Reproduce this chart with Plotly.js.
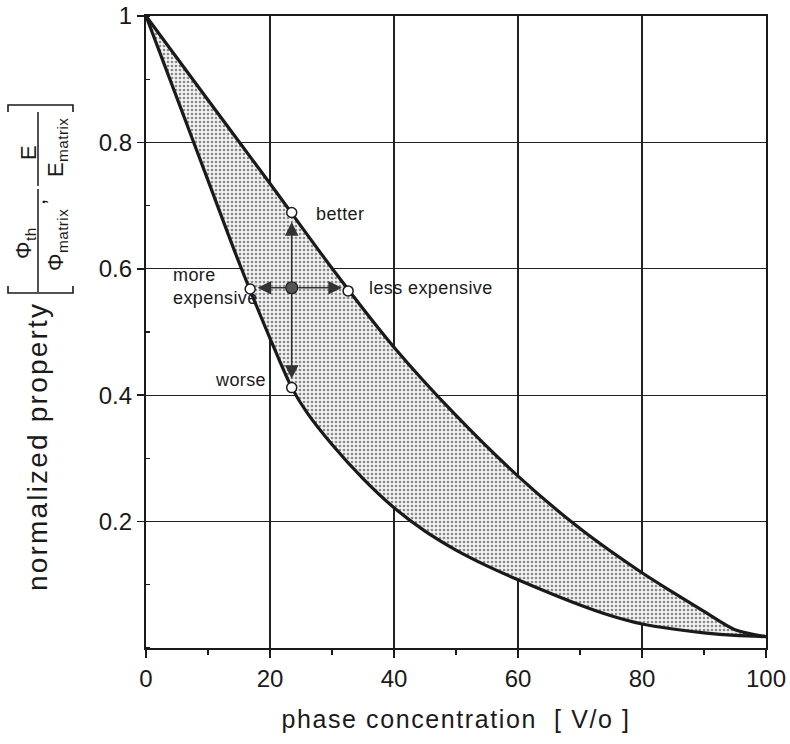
<!DOCTYPE html>
<html>
<head>
<meta charset="utf-8">
<script src="https://cdn.plot.ly/plotly-3.0.1.min.js"></script>
<style>
html,body{margin:0;padding:0;background:#fff;}
#chart{width:790px;height:744px;}
.annotation-text{letter-spacing:0.4px;}
.annotation[data-index="8"] .annotation-text{letter-spacing:2.2px;}
.xtitle{letter-spacing:1.6px;}
</style>
</head>
<body>
<div id="chart"></div>
<script>
// ---- data ----
const upperX = [0, 10, 20, 30, 40, 50, 60, 70, 80, 85, 90, 95, 100];
const upperY = [1.0, 0.867, 0.735, 0.601, 0.476, 0.368, 0.272, 0.189, 0.119, 0.088, 0.058, 0.029, 0.018];
const lowerX = [0, 5, 10, 15, 20, 23.5, 26, 30, 35, 40, 45, 50, 55, 60, 70, 75, 80, 85, 90, 95, 100];
const lowerY = [1.0, 0.87, 0.74, 0.61, 0.49, 0.412, 0.372, 0.322, 0.268, 0.222, 0.185, 0.155, 0.130, 0.108, 0.068, 0.051, 0.038, 0.030, 0.024, 0.020, 0.018];

const openPtX = [23.5, 32.6, 16.8, 23.5];
const openPtY = [0.689, 0.565, 0.568, 0.412];
const centerX = [23.5];
const centerY = [0.57];

// arrow tips: up, right, left, down
const arrowTipX = [23.5, 31.6, 18.0, 23.5];
const arrowTipY = [0.674, 0.57, 0.57, 0.426];

const labelText = ["better", "less expensive", "more<br>expensive", "worse"];
const labelX = [27.1, 35.6, 4.0, 19.6];
const labelY = [0.686, 0.570, 0.572, 0.424];
const labelAnchor = ["left", "left", "left", "right"];

const xTickVals = [0, 20, 40, 60, 80, 100];
const yTickVals = [0.2, 0.4, 0.6, 0.8, 1];
const yTickText = ["0.2", "0.4", "0.6", "0.8", "1"];

const FONT = "'Liberation Sans', Arial, sans-serif";
const INK = "#1a1a1a";

const traces = [
  {x: lowerX, y: lowerY, mode: "lines", line: {color: INK, width: 3.2, shape: "spline", smoothing: 0.8},
   hoverinfo: "skip", showlegend: false},
  {x: upperX, y: upperY, mode: "lines", line: {color: INK, width: 3.2, shape: "spline", smoothing: 0.8},
   fill: "tonexty", fillcolor: "rgba(0,0,0,0.13)",
   fillpattern: {shape: ".", fgcolor: "#8a8a8a", bgcolor: "#f3f3f3", size: 4, solidity: 0.35},
   hoverinfo: "skip", showlegend: false},
  {x: centerX, y: centerY, mode: "markers",
   marker: {size: 12, color: "#555", line: {color: INK, width: 1.2}}, showlegend: false},
  {x: openPtX, y: openPtY, mode: "markers",
   marker: {size: 10, color: "#fff", line: {color: INK, width: 1.5}}, showlegend: false}
];

const annotations = [];
for (let i = 0; i < arrowTipX.length; i++) {
  annotations.push({x: arrowTipX[i], y: arrowTipY[i], ax: centerX[0], ay: centerY[0],
    xref: "x", yref: "y", axref: "x", ayref: "y", text: "", showarrow: true,
    arrowhead: 2, arrowsize: 1.7, arrowwidth: 1.6, arrowcolor: "#333", startstandoff: 5, standoff: 0});
}
for (let i = 0; i < labelText.length; i++) {
  annotations.push({x: labelX[i], y: labelY[i], xref: "x", yref: "y", text: labelText[i],
    showarrow: false, xanchor: labelAnchor[i], yanchor: "middle", align: "left",
    font: {family: FONT, size: 18, color: INK}});
}
// y-axis labelling (paper coordinates derived from pixel positions of the reference)
const P = (px) => (px - 146) / 620;
const Q = (py) => (648 - py) / 632;
function rot(px, py, text, size) {
  annotations.push({xref: "paper", yref: "paper", x: P(px), y: Q(py), text: text, textangle: -90,
    xanchor: "center", yanchor: "middle", showarrow: false,
    font: {family: FONT, size: size, color: INK}});
}
rot(37, 447, "normalized property", 28);
rot(25, 243, "Φ<sub>th</sub>", 22);
rot(57, 240, "Φ<sub>matrix</sub>", 22);
rot(28, 153, "E", 22);
rot(57, 148, "E<sub>matrix</sub>", 22);
rot(37, 202, ",", 22);

const shapes = [
  {type: "line", xref: "paper", yref: "paper", x0: P(38), x1: P(38), y0: Q(189), y1: Q(292), line: {color: INK, width: 1.5}},
  {type: "line", xref: "paper", yref: "paper", x0: P(38), x1: P(38), y0: Q(112), y1: Q(186), line: {color: INK, width: 1.5}},
  {type: "path", xref: "paper", yref: "paper",
   path: `M ${P(8)} ${Q(286)} L ${P(8)} ${Q(293)} L ${P(73)} ${Q(293)} L ${P(73)} ${Q(286)}`,
   line: {color: INK, width: 1.6}},
  {type: "path", xref: "paper", yref: "paper",
   path: `M ${P(8)} ${Q(112)} L ${P(8)} ${Q(105)} L ${P(73)} ${Q(105)} L ${P(73)} ${Q(112)}`,
   line: {color: INK, width: 1.6}}
];

const layout = {
  width: 790, height: 744,
  margin: {l: 146, r: 24, t: 16, b: 96},
  paper_bgcolor: "#fff", plot_bgcolor: "#fff",
  font: {family: FONT, color: INK},
  showlegend: false,
  xaxis: {
    range: [0, 100], tickmode: "array", tickvals: xTickVals,
    showgrid: true, gridcolor: "#222", gridwidth: 1.1,
    showline: true, linecolor: INK, linewidth: 2.2, mirror: true,
    ticks: "outside", ticklen: 8, tickwidth: 1.6, tickcolor: INK,
    minor: {tickmode: "linear", tick0: 0, dtick: 10, ticks: "outside", ticklen: 5, tickwidth: 1.4, tickcolor: INK, showgrid: false},
    tickfont: {family: FONT, size: 24, color: INK},
    zeroline: false,
    title: {text: "phase concentration  [ V/o ]", font: {family: FONT, size: 25, color: INK}, standoff: 20}
  },
  yaxis: {
    range: [0, 1], tickmode: "array", tickvals: yTickVals, ticktext: yTickText,
    showgrid: true, gridcolor: "#222", gridwidth: 1.1,
    showline: true, linecolor: INK, linewidth: 2.2, mirror: true,
    ticks: "outside", ticklen: 7, tickwidth: 1.6, tickcolor: INK,
    minor: {tickmode: "linear", tick0: 0, dtick: 0.1, ticks: "inside", ticklen: 4, tickwidth: 1.2, tickcolor: INK, showgrid: false},
    tickfont: {family: FONT, size: 24, color: INK},
    zeroline: false
  },
  annotations: annotations,
  shapes: shapes
};

Plotly.newPlot("chart", traces, layout, {staticPlot: true, displayModeBar: false});
</script>
</body>
</html>
